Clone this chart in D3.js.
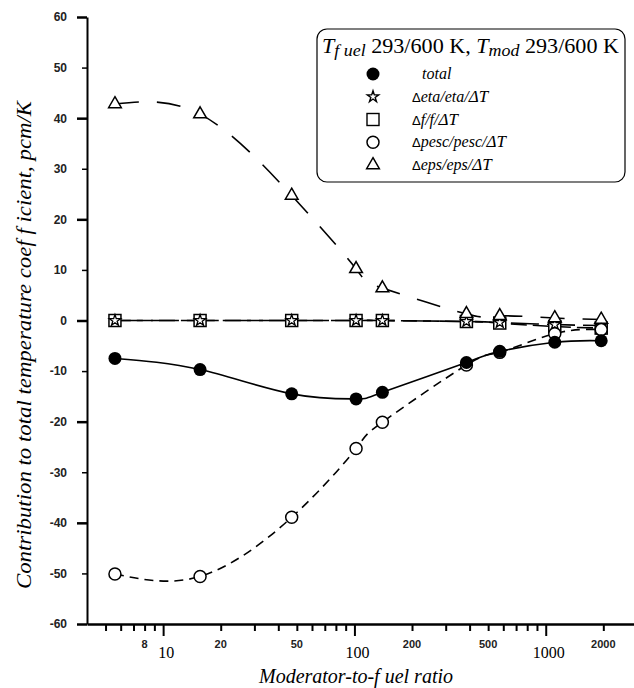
<!DOCTYPE html>
<html>
<head>
<meta charset="utf-8">
<script src="https://cdn.jsdelivr.net/npm/d3@7"></script>
<style>
  body { margin: 0; background: #fff; }
  svg { display: block; }
  .serif { font-family: "Liberation Serif", "Times New Roman", serif; }
  .sans { font-family: "Liberation Sans", Arial, sans-serif; }
</style>
</head>
<body>
<svg id="chart" width="634" height="688"></svg>
<script>
// moderator-to-fuel ratio (x) for every series
const ratio = [5.6, 15.6, 47, 102, 140, 385, 575, 1115, 1950];
// contributions, pcm/K
const total = [-7.5, -9.7, -14.5, -15.5, -14.2, -8.3, -6.1, -4.3, -4.0];
const eta = [0, 0, 0, 0, 0, -0.2, -0.4, -0.8, -1.0];
const fTerm = [0, 0, 0, 0, 0, -0.2, -0.5, -1.2, -1.5];
const pesc = [-50.1, -50.6, -38.9, -25.3, -20.1, -8.8, -6.3, -2.6, -1.8];
const eps = [42.8, 40.8, 24.7, 10.2, 6.4, 1.3, 0.9, 0.5, 0.2];

const yTicks = [60, 50, 40, 30, 20, 10, 0, -10, -20, -30, -40, -50, -60];
const xMajor = [10, 100, 1000];
const xMinor = [5, 6, 7, 8, 9, 20, 30, 40, 50, 60, 70, 80, 90,
  200, 300, 400, 500, 600, 700, 800, 900, 2000];
const xSmallLabels = [8, 20, 50, 200, 500, 2000];
const xBigLabels = [10, 100, 1000];

let svg = d3.select("#chart")

let margin = {top: 17, left: 87, bottom: 624, right: 637}

let x = d3.scaleLog()
  .domain([4, 3000])
  .range([margin.left, margin.right])
let y = d3.scaleLinear()
  .domain([-60, 60])
  .range([margin.bottom, margin.top])

// y axis
let yAxis = svg.append("g")
  .attr("transform", `translate(${margin.left},0)`)
  .call(d3.axisLeft(y).tickValues(yTicks).tickSizeOuter(0).tickPadding(14)
    .tickFormat(d => d))
yAxis.select(".domain").attr("stroke-width", 2)
yAxis.selectAll(".tick line")
  .attr("x2", d => d % 20 == 0 ? -10 : -5)
  .attr("stroke-width", d => d % 20 == 0 ? 2.5 : 1.5)
yAxis.selectAll(".tick text")
  .attr("class", "sans")
  .attr("font-size", 12)
  .attr("font-weight", "bold")
  .attr("fill", "#222")

// x axis
let xAxis = svg.append("g")
  .attr("transform", `translate(0,${margin.bottom})`)
  .call(d3.axisBottom(x).tickValues(xMinor.concat(xMajor)).tickSizeOuter(0)
    .tickFormat(""))
xAxis.select(".domain").attr("stroke-width", 2.5)
xAxis.selectAll(".tick line")
  .attr("y2", d => xMajor.includes(d) ? 12 : 7)
  .attr("stroke-width", 2)

svg.append("g").selectAll("text")
  .data(xSmallLabels).enter()
  .append("text")
  .attr("class", "sans")
  .attr("x", d => x(d))
  .attr("y", 648)
  .attr("text-anchor", "middle")
  .attr("font-size", 11)
  .attr("font-weight", "bold")
  .attr("fill", "#222")
  .text(d => d)

svg.append("g").selectAll("text")
  .data(xBigLabels).enter()
  .append("text")
  .attr("class", "serif")
  .attr("x", d => x(d) + 3)
  .attr("y", 658)
  .attr("text-anchor", "middle")
  .attr("font-size", 16)
  .text(d => d)

// axis titles
svg.append("text")
  .attr("class", "serif")
  .attr("x", 356)
  .attr("y", 683)
  .attr("text-anchor", "middle")
  .attr("font-size", 20)
  .attr("font-style", "italic")
  .text("Moderator-to-f uel ratio")

svg.append("text")
  .attr("class", "serif")
  .attr("transform", "translate(31,345) rotate(-90)")
  .attr("text-anchor", "middle")
  .attr("font-size", 20)
  .attr("font-style", "italic")
  .attr("textLength", 488)
  .attr("lengthAdjust", "spacingAndGlyphs")
  .text("Contribution to total temperature coef f icient, pcm/K")

// series lines
let series = [
  {vals: eta, dash: "28,8"},
  {vals: fTerm, dash: "16,6"},
  {vals: eps, dash: "24,18"},
  {vals: pesc, dash: "9,6"},
  {vals: total, dash: null}
]

let line = d3.line()
  .x((d, i) => x(ratio[i]))
  .y(d => y(d))
  .curve(d3.curveNatural)

svg.append("g")
  .selectAll("path")
  .data(series).enter()
  .append("path")
  .attr("d", d => line(d.vals))
  .attr("fill", "none")
  .attr("stroke", "#000")
  .attr("stroke-width", 1.6)
  .attr("stroke-dasharray", d => d.dash)

// markers
let tri = d3.symbol().type(d3.symbolTriangle).size(70)
let star = d3.symbol().type(d3.symbolStar).size(40)

let marks = svg.append("g")
marks.selectAll("rect")
  .data(fTerm).enter()
  .append("rect")
  .attr("x", (d, i) => x(ratio[i]) - 6)
  .attr("y", d => y(d) - 6)
  .attr("width", 12).attr("height", 12)
  .attr("fill", "#fff").attr("stroke", "#000").attr("stroke-width", 1.5)
marks.selectAll("path.star")
  .data(eta).enter()
  .append("path")
  .attr("class", "star")
  .attr("d", star)
  .attr("transform", (d, i) => `translate(${x(ratio[i])},${y(d)})`)
  .attr("fill", "#fff").attr("stroke", "#000").attr("stroke-width", 1.3)
marks.selectAll("path.tri")
  .data(eps).enter()
  .append("path")
  .attr("class", "tri")
  .attr("d", tri)
  .attr("transform", (d, i) => `translate(${x(ratio[i])},${y(d)})`)
  .attr("fill", "#fff").attr("stroke", "#000").attr("stroke-width", 1.5)
marks.selectAll("circle.pesc")
  .data(pesc).enter()
  .append("circle")
  .attr("class", "pesc")
  .attr("cx", (d, i) => x(ratio[i]))
  .attr("cy", d => y(d))
  .attr("r", 6)
  .attr("fill", "#fff").attr("stroke", "#000").attr("stroke-width", 1.5)
marks.selectAll("circle.total")
  .data(total).enter()
  .append("circle")
  .attr("class", "total")
  .attr("cx", (d, i) => x(ratio[i]))
  .attr("cy", d => y(d))
  .attr("r", 6.5)
  .attr("fill", "#000")

// legend
let legend = svg.append("g")
legend.append("rect")
  .attr("x", 317).attr("y", 29)
  .attr("width", 308).attr("height", 153)
  .attr("rx", 10)
  .attr("fill", "#fff").attr("stroke", "#000").attr("stroke-width", 1.2)

let title = legend.append("text")
  .attr("class", "serif")
  .attr("x", 322).attr("y", 53)
  .attr("font-size", 21)
  .attr("textLength", 297)
  .attr("lengthAdjust", "spacingAndGlyphs")
title.append("tspan").attr("font-style", "italic").text("T")
title.append("tspan").attr("font-style", "italic").attr("font-size", 17).attr("dy", 3).text("f uel")
title.append("tspan").attr("dy", -3).text(" 293/600 K, ")
title.append("tspan").attr("font-style", "italic").text("T")
title.append("tspan").attr("font-style", "italic").attr("font-size", 17).attr("dy", 3).text("mod")
title.append("tspan").attr("dy", -3).text(" 293/600 K")

let entries = [
  {type: "total", name: ["", "total", ""]},
  {type: "star", name: ["\u0394", "eta/eta/", "\u0394T"]},
  {type: "square", name: ["\u0394", "f/f/", "\u0394T"]},
  {type: "circle", name: ["\u0394", "pesc/pesc/", "\u0394T"]},
  {type: "tri", name: ["\u0394", "eps/eps/", "\u0394T"]}
]
let rowY = d3.scalePoint().domain(d3.range(entries.length)).range([74, 165])

entries.forEach((e, i) => {
  let cy = rowY(i)
  let cx = 373
  if (e.type == "total") {
    legend.append("circle").attr("cx", cx).attr("cy", cy).attr("r", 6.5).attr("fill", "#000")
  } else if (e.type == "star") {
    legend.append("path").attr("d", star).attr("transform", `translate(${cx},${cy})`)
      .attr("fill", "#fff").attr("stroke", "#000").attr("stroke-width", 1.4)
  } else if (e.type == "square") {
    legend.append("rect").attr("x", cx - 6).attr("y", cy - 6).attr("width", 12).attr("height", 12)
      .attr("fill", "#fff").attr("stroke", "#000").attr("stroke-width", 1.4)
  } else if (e.type == "circle") {
    legend.append("circle").attr("cx", cx).attr("cy", cy).attr("r", 6)
      .attr("fill", "#fff").attr("stroke", "#000").attr("stroke-width", 1.5)
  } else {
    legend.append("path").attr("d", tri).attr("transform", `translate(${cx},${cy})`)
      .attr("fill", "#fff").attr("stroke", "#000").attr("stroke-width", 1.5)
  }
  let t = legend.append("text")
    .attr("class", "serif")
    .attr("x", e.type == "total" ? 422 : 412)
    .attr("y", cy + 5)
    .attr("font-size", 16)
    .attr("font-style", "italic")
  t.append("tspan").attr("font-size", 13).attr("font-style", "normal").attr("class", "sans").text(e.name[0])
  t.append("tspan").text(e.name[1])
  t.append("tspan").attr("font-size", 17).text(e.name[2])
})
</script>
</body>
</html>
